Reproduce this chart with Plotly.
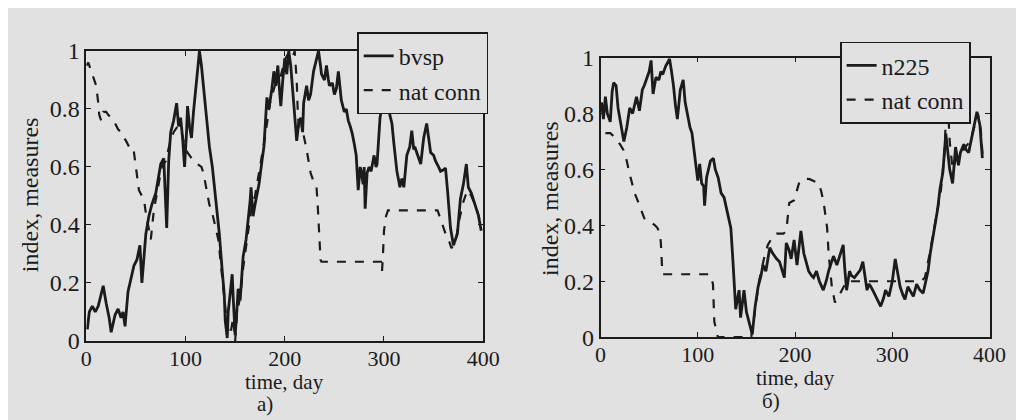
import plotly.graph_objects as go

# ---------------- data ----------------
x_ticks = [0, 100, 200, 300, 400]
y_ticks = [0, 0.2, 0.4, 0.6, 0.8, 1]
y_tick_text = ["0", "0.2", "0.4", "0.6", "0.8", "1"]

bvsp_day = [1, 3, 6, 9, 12, 15, 17, 20, 23, 25, 27, 29, 32, 35, 37, 39, 42, 45, 48, 51,
            54, 56, 58, 60, 63, 66, 70, 73, 75, 78, 80, 81, 83, 85, 88, 90, 91, 93, 95, 97,
            99, 101, 102, 104, 106, 108, 110, 112, 114, 116, 118, 121, 124, 127, 129, 132,
            134, 137, 139, 140, 142, 143, 145, 147, 148, 149, 150, 152, 153, 155, 156, 158,
            161, 163, 165, 166, 168, 170, 172, 174, 177, 179, 182, 184, 187, 189, 191, 193,
            195, 196, 198, 200, 202, 204, 206, 207, 209, 212, 214, 216, 218, 219, 222, 224,
            226, 229, 231, 234, 236, 237, 240, 242, 244, 245, 248, 250, 252, 254, 257, 260,
            262, 264, 266, 268, 270, 272, 274, 276, 277, 279, 280, 281, 283, 285, 287, 289,
            290, 292, 293, 296, 300, 303, 306, 308, 310, 313, 315, 316, 318, 320, 323, 326,
            328, 330, 331, 334, 337, 340, 343, 345, 347, 350, 352, 355, 357, 360, 362, 364,
            366, 367, 370, 372, 374, 377, 380, 383, 385, 388, 390, 393, 395, 398]
bvsp_val = [0.04, 0.1, 0.12, 0.1, 0.12, 0.16, 0.19, 0.13, 0.08, 0.03, 0.06, 0.09, 0.11, 0.08,
            0.1, 0.05, 0.17, 0.22, 0.26, 0.28, 0.33, 0.2, 0.3, 0.37, 0.43, 0.47, 0.51, 0.57,
            0.61, 0.63, 0.5, 0.39, 0.62, 0.72, 0.76, 0.8, 0.82, 0.74, 0.77, 0.7, 0.6, 0.72,
            0.81, 0.74, 0.7, 0.79, 0.85, 0.93, 1.0, 0.95, 0.88, 0.77, 0.67, 0.6, 0.54, 0.45,
            0.37, 0.24, 0.16, 0.07, 0.01, 0.1, 0.17, 0.23, 0.15, 0.08, 0.02, 0.12, 0.18, 0.14,
            0.2, 0.29, 0.35, 0.41, 0.48, 0.53, 0.43, 0.47, 0.5, 0.54, 0.62, 0.67, 0.84, 0.8,
            0.87, 0.93, 0.88, 0.95, 0.85, 0.81, 0.9, 0.975, 0.92, 1.0, 0.95, 0.9, 0.82, 0.69,
            0.75, 0.77, 0.72, 0.82, 0.88, 0.83, 0.85, 0.93, 0.96, 1.0, 0.95, 0.92, 0.9, 0.95,
            0.9, 0.88, 0.89, 0.85, 0.87, 0.93, 0.83, 0.79, 0.8, 0.76, 0.74, 0.715, 0.68, 0.64,
            0.52, 0.6, 0.585, 0.54, 0.6, 0.456, 0.58, 0.6, 0.585, 0.62, 0.64, 0.6, 0.61, 0.77,
            0.845, 0.82, 0.78, 0.75, 0.68, 0.585, 0.55, 0.53, 0.56, 0.53, 0.64, 0.67, 0.725,
            0.66, 0.67, 0.64, 0.61, 0.7, 0.75, 0.7, 0.65, 0.64, 0.62, 0.6, 0.585, 0.59, 0.596,
            0.52, 0.42, 0.39, 0.33, 0.35, 0.37, 0.49, 0.54, 0.61, 0.53, 0.51, 0.49, 0.46,
            0.435, 0.38]

conn_a_day = [0, 2, 5, 8, 10, 12, 13, 15, 17, 20, 22, 25, 29, 32, 35, 38, 40, 43, 47, 48,
              50, 53, 56, 58, 60, 62, 65, 68, 72, 76, 80, 84, 88, 92, 96, 100, 104, 108, 112,
              116, 118, 121, 124, 127, 130, 133, 136, 139, 142, 145, 148, 150, 152, 155, 158,
              162, 166, 170, 175, 180, 185, 190, 195, 200, 205, 208, 210, 212, 213, 214, 217,
              219, 222, 224, 226, 229, 232, 233, 234, 235, 236, 237, 297, 298, 299, 300, 302,
              304, 354, 357, 360, 363, 366, 368, 370, 373, 376, 380, 384, 388, 392, 396, 398]
conn_a_val = [0.95, 0.96, 0.93, 0.9, 0.88, 0.82, 0.78, 0.76, 0.79, 0.79, 0.78, 0.77, 0.75,
              0.73, 0.72, 0.7, 0.69, 0.67, 0.67, 0.65, 0.6, 0.52, 0.5, 0.49, 0.44, 0.4, 0.35,
              0.45, 0.52, 0.6, 0.62, 0.68, 0.72, 0.74, 0.72, 0.66, 0.64, 0.62, 0.61, 0.6, 0.58,
              0.52, 0.47, 0.44, 0.4, 0.35, 0.25, 0.15, 0.05, 0.02, 0.08, 0.0, 0.1, 0.15, 0.25,
              0.35, 0.45, 0.5, 0.6, 0.7, 0.82, 0.88, 0.9, 0.97, 1.0, 0.98, 1.0, 0.9, 0.8, 0.74,
              0.72, 0.71, 0.66, 0.62, 0.58, 0.55, 0.53, 0.48, 0.43, 0.35, 0.28, 0.273, 0.273,
              0.24, 0.3, 0.38, 0.43, 0.45, 0.45, 0.42, 0.39, 0.36, 0.34, 0.32, 0.33, 0.36, 0.42,
              0.48, 0.52, 0.5, 0.47, 0.42, 0.4]

n225_day = [1, 3, 5, 7, 10, 12, 13.5, 16, 18, 20, 22, 24, 27, 30, 33, 35, 37, 40, 43, 45,
            47, 50, 52, 54, 57, 60, 62, 64, 67, 71, 73, 75, 77, 79, 82, 85, 87, 90, 92, 94,
            97, 100, 102, 104, 106, 107, 109, 111, 113, 116, 118, 121, 124, 127, 129, 132,
            134, 136, 138, 139, 141, 142.5, 144, 146, 147.5, 150, 153, 156, 159, 162, 165,
            167, 170, 172, 174, 177, 179, 181, 184, 187, 189, 191, 194, 196, 199, 202, 204,
            206, 209, 212, 214, 217, 219, 222, 225, 229, 232, 234.5, 237, 239.5, 243, 246,
            249.5, 251, 253, 256, 258, 261, 264, 267, 269.7, 272, 274, 276, 278, 281, 283,
            286, 288, 291, 293, 296.5, 300, 303, 306, 308, 311, 313, 316, 319, 321.6, 325,
            328, 331.7, 334, 336.7, 339, 341.7, 344, 346.7, 349, 352, 355, 357, 359, 362,
            364, 365, 368, 370, 373.5, 376, 378.5, 381, 383.6, 387, 390, 392.6]
n225_val = [0.84, 0.78, 0.86, 0.8, 0.77, 0.88, 0.91, 0.9, 0.82, 0.78, 0.74, 0.7, 0.75, 0.82,
            0.8, 0.83, 0.86, 0.81, 0.885, 0.9, 0.92, 0.95, 0.99, 0.87, 0.93, 0.92, 0.95,
            0.94, 0.97, 0.995, 0.95, 0.9, 0.83, 0.78, 0.885, 0.92, 0.84, 0.78, 0.75, 0.73,
            0.65, 0.56, 0.62, 0.55, 0.54, 0.47, 0.57, 0.6, 0.63, 0.64, 0.6, 0.57, 0.515, 0.5,
            0.47, 0.43, 0.39, 0.28, 0.15, 0.1, 0.14, 0.168, 0.07, 0.12, 0.168, 0.09, 0.05,
            0.01, 0.11, 0.18, 0.22, 0.258, 0.236, 0.28, 0.32, 0.3, 0.29, 0.28, 0.27, 0.236,
            0.213, 0.337, 0.31, 0.28, 0.348, 0.258, 0.32, 0.38, 0.3, 0.26, 0.236, 0.22,
            0.213, 0.236, 0.2, 0.168, 0.2, 0.236, 0.26, 0.29, 0.258, 0.29, 0.33, 0.25, 0.168,
            0.236, 0.22, 0.213, 0.225, 0.24, 0.27, 0.21, 0.168, 0.19, 0.18, 0.16, 0.146,
            0.13, 0.11, 0.14, 0.168, 0.146, 0.2, 0.28, 0.22, 0.18, 0.15, 0.135, 0.18, 0.16,
            0.146, 0.19, 0.17, 0.157, 0.2, 0.236, 0.3, 0.36, 0.41, 0.46, 0.53, 0.59, 0.728,
            0.66, 0.6, 0.55, 0.64, 0.68, 0.615, 0.66, 0.69, 0.67, 0.66, 0.7, 0.75, 0.806,
            0.76, 0.64]

conn_b_day = [5, 10, 13, 16.7, 20, 23.5, 27, 30, 33, 35, 38, 40, 43, 45, 50, 52, 56, 58.6,
              61, 62, 63.6, 112, 114, 115.6, 117, 120.6, 155, 159, 163, 168, 172, 177, 181,
              188, 191, 194, 199, 204, 209, 215, 218, 224.5, 227, 229.5, 233, 234.5, 237.8,
              241, 244, 248, 251, 253, 330, 333.5, 338.5, 345, 350, 352, 353.6, 355, 357,
              359, 362, 366, 370, 375, 380, 385, 388, 391, 393]
conn_b_val = [0.73, 0.73, 0.72, 0.706, 0.69, 0.67, 0.63, 0.583, 0.54, 0.516, 0.49, 0.47,
              0.44, 0.425, 0.415, 0.41, 0.4, 0.39, 0.37, 0.34, 0.225, 0.225, 0.21, 0.19,
              0.056, 0.0, 0.0, 0.1, 0.2, 0.28, 0.33, 0.36, 0.37, 0.37, 0.38, 0.48, 0.49,
              0.55, 0.567, 0.565, 0.56, 0.55, 0.52, 0.48, 0.39, 0.3, 0.18, 0.124, 0.14,
              0.168, 0.19, 0.2, 0.2, 0.213, 0.3, 0.425, 0.526, 0.6, 0.66, 0.78, 0.84, 0.7,
              0.6, 0.64, 0.65, 0.68, 0.7, 0.76, 0.8, 0.74, 0.64]

# ---------------- styling ----------------
W, H = 1024, 420
BG = "#e1e1e1"
INK = "#1b1b1b"
FONT = "Liberation Serif"
FS = 24

def px_x(p):
    return p / W

def px_y(p):
    return 1 - p / H

fig = go.Figure()

fig.add_trace(go.Scatter(x=bvsp_day, y=bvsp_val, mode="lines", name="bvsp",
                         line=dict(color=INK, width=2.8), xaxis="x", yaxis="y",
                         legend="legend"))
fig.add_trace(go.Scatter(x=conn_a_day, y=conn_a_val, mode="lines", name="nat conn",
                         line=dict(color=INK, width=2.2, dash="dash"), xaxis="x", yaxis="y",
                         legend="legend"))
fig.add_trace(go.Scatter(x=n225_day, y=n225_val, mode="lines", name="n225",
                         line=dict(color=INK, width=2.8), xaxis="x2", yaxis="y2",
                         legend="legend2"))
fig.add_trace(go.Scatter(x=conn_b_day, y=conn_b_val, mode="lines", name="nat conn",
                         line=dict(color=INK, width=2.2, dash="dash"), xaxis="x2", yaxis="y2",
                         legend="legend2"))

axis_common = dict(showline=True, mirror="ticks", linecolor=INK, linewidth=1.6,
                   ticks="inside", ticklen=5, tickwidth=1.3, tickcolor=INK,
                   showgrid=False, zeroline=False)
xtickfont = dict(family=FONT, size=22, color=INK)
ytickfont = dict(family=FONT, size=FS, color=INK)

fig.update_layout(
    width=W, height=H,
    margin=dict(l=0, r=0, t=0, b=0),
    paper_bgcolor=BG, plot_bgcolor=BG,
    font=dict(family=FONT, size=FS, color=INK),
    xaxis=dict(domain=[px_x(74), px_x(480)], range=[0, 400], tickvals=x_ticks,
               anchor="y", tickfont=xtickfont, ticklabelstandoff=-3, **axis_common),
    yaxis=dict(domain=[px_y(341), px_y(32)], range=[0, 1], tickvals=y_ticks,
               ticktext=y_tick_text, anchor="x", tickfont=ytickfont, **axis_common),
    xaxis2=dict(domain=[px_x(600), px_x(998)], range=[0, 400], tickvals=x_ticks,
                anchor="y2", tickfont=xtickfont, ticklabelstandoff=-3, **axis_common),
    yaxis2=dict(domain=[px_y(337), px_y(39)], range=[0, 1], tickvals=y_ticks,
                ticktext=y_tick_text, anchor="x2", tickfont=ytickfont, **axis_common),
    legend=dict(x=px_x(351), y=px_y(12), xanchor="left", yanchor="top",
                bgcolor=BG, bordercolor=INK, borderwidth=1.6,
                font=dict(family=FONT, size=FS, color=INK),
                tracegroupgap=0, itemwidth=30),
    legend2=dict(x=px_x(845), y=px_y(22), xanchor="left", yanchor="top",
                 bgcolor=BG, bordercolor=INK, borderwidth=1.6,
                 font=dict(family=FONT, size=FS, color=INK),
                 tracegroupgap=0, itemwidth=30),
    showlegend=True,
)

def label(text, x, y, angle=0, size=FS):
    fig.add_annotation(text=text, x=px_x(x), y=px_y(y), xref="paper", yref="paper",
                       showarrow=False, textangle=angle, xanchor="center", yanchor="middle",
                       font=dict(family=FONT, size=size, color=INK))

label("time, day", 277, 385, size=21)
label("a)", 257, 408, size=21)
label("index, measures", 16, 185, -90)
label("time, day", 799, 381, size=21)
label("б)", 774, 405, size=21)
label("index, measures", 549, 189, -90)

fig.write_html("out.html")
